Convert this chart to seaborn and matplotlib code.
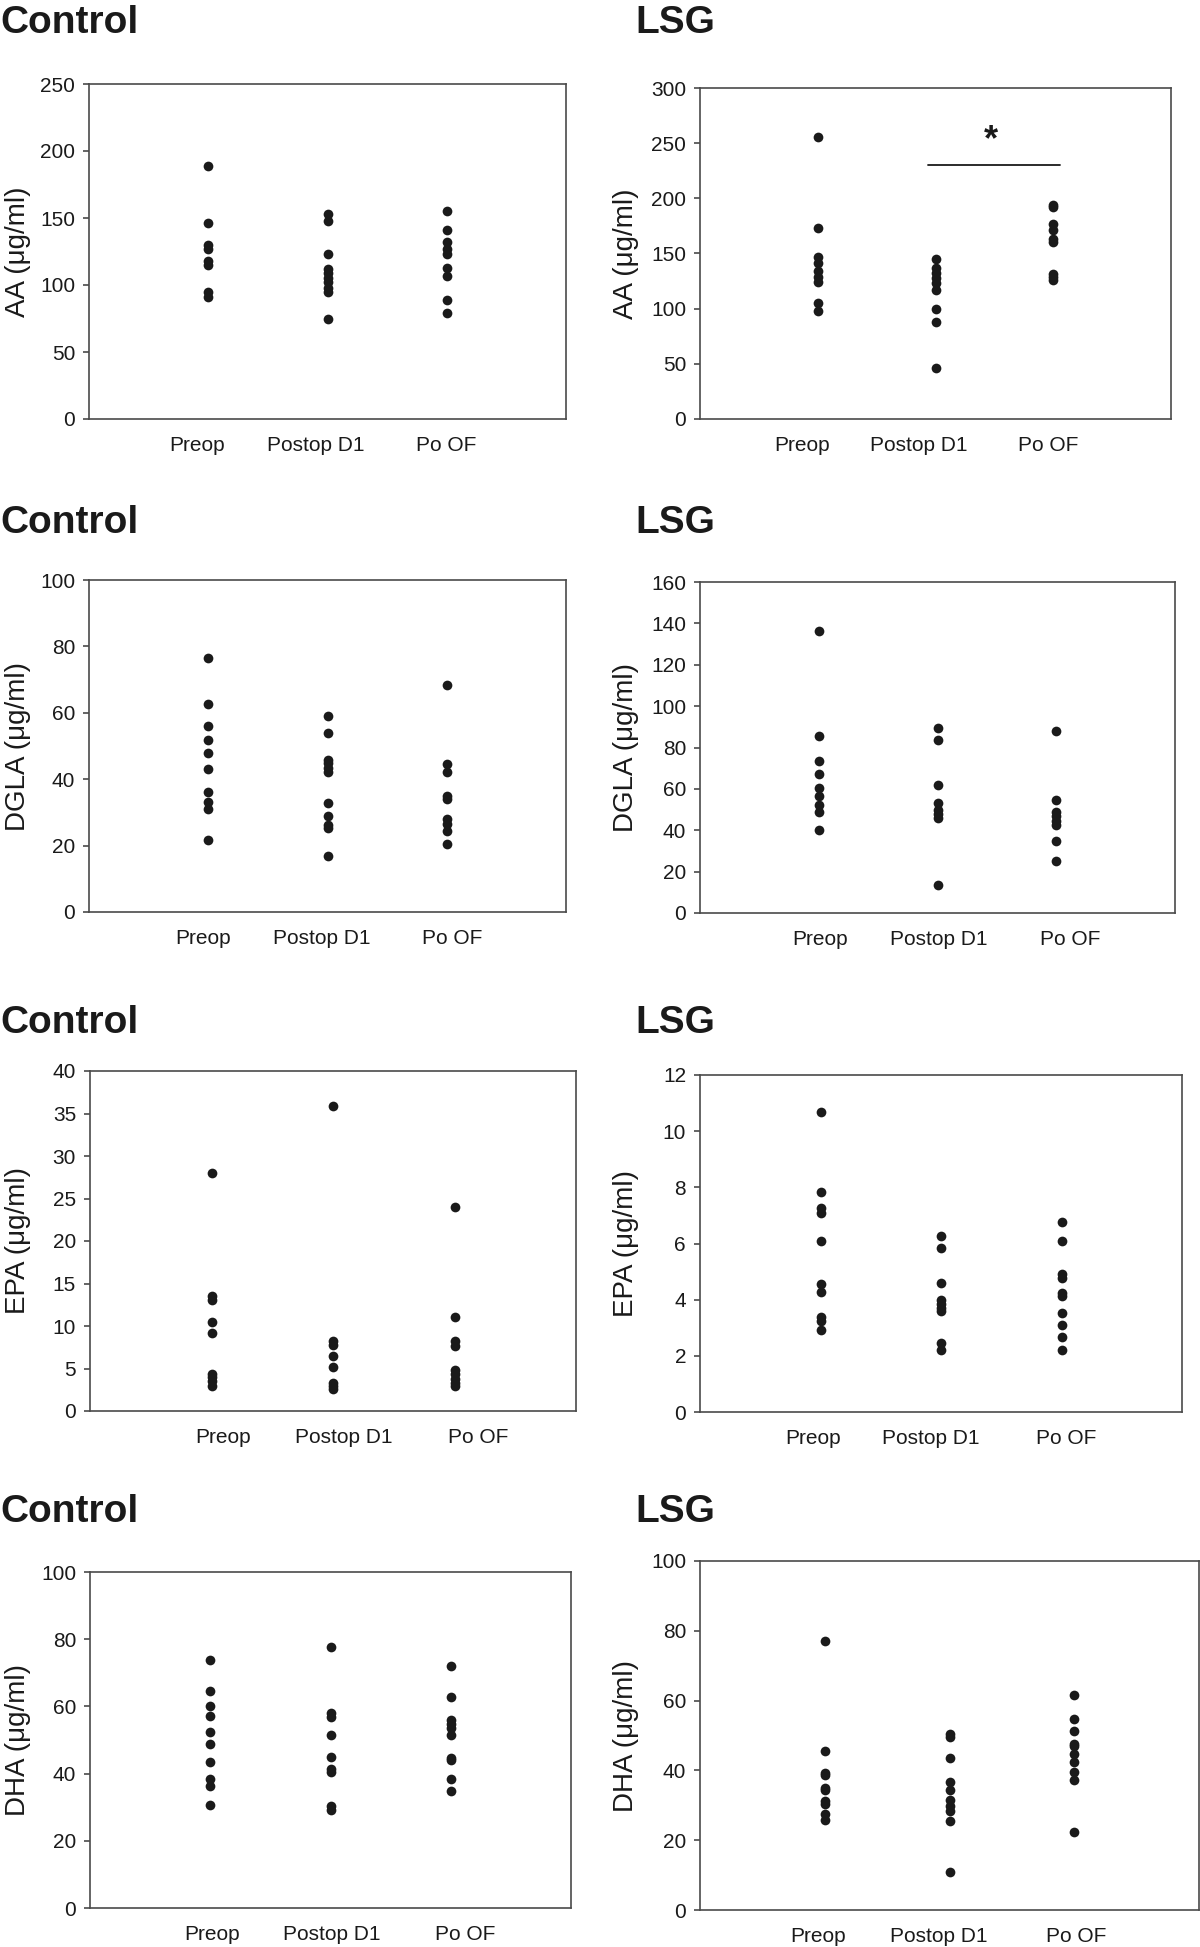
import matplotlib
matplotlib.use("Agg")
import matplotlib.pyplot as plt
import matplotlib.transforms as mtransforms
import seaborn as sns
import pandas as pd

# ---------------- data ----------------
timepoints = ["Preop", "Postop D1", "Po OF"]

ctrl_aa_preop = [189, 146, 130, 127, 118, 115, 95, 91]
ctrl_aa_d1 = [153, 148, 123, 112, 109, 105, 102, 98, 95, 75]
ctrl_aa_of = [155, 141, 132, 127, 123, 113, 107, 89, 79]

lsg_aa_preop = [256, 173, 147, 141, 134, 129, 124, 105, 98]
lsg_aa_d1 = [145, 137, 132, 128, 123, 117, 100, 88, 46]
lsg_aa_of = [194, 192, 177, 171, 163, 160, 131, 129, 126]

ctrl_dgla_preop = [76.4, 62.7, 55.9, 51.9, 47.8, 43.2, 36, 33, 31, 21.8]
ctrl_dgla_d1 = [59.1, 53.9, 45.8, 44.8, 43.3, 42.1, 32.8, 29, 26.1, 25.3, 16.8]
ctrl_dgla_of = [68.4, 44.5, 42.1, 34.8, 34.1, 28.1, 26.6, 24.3, 20.6]

lsg_dgla_preop = [136.5, 85.4, 73.3, 67.2, 60.4, 56.7, 52.4, 48.8, 40.3]
lsg_dgla_d1 = [89.4, 83.5, 62, 53.2, 50, 47.9, 45.9, 13.4]
lsg_dgla_of = [88.1, 54.5, 48.8, 46.7, 44.6, 42.4, 35, 25]

ctrl_epa_preop = [28, 13.5, 13.1, 10.5, 9.2, 4.4, 4.0, 3.5, 3.0]
ctrl_epa_d1 = [35.9, 8.2, 7.8, 6.5, 5.2, 3.3, 3.0, 2.6]
ctrl_epa_of = [24, 11.1, 8.2, 7.7, 4.8, 4.3, 3.8, 3.3, 3.0]

lsg_epa_preop = [10.69, 7.84, 7.25, 7.1, 6.09, 4.57, 4.28, 3.39, 3.23, 2.91]
lsg_epa_d1 = [6.28, 5.85, 4.59, 4.0, 3.86, 3.72, 3.59, 2.47, 2.2]
lsg_epa_of = [6.77, 6.09, 4.93, 4.78, 4.25, 4.13, 3.54, 3.09, 2.67, 2.2]

ctrl_dha_preop = [73.8, 64.6, 60, 57, 52.3, 48.7, 43.4, 38.3, 36.4, 30.7]
ctrl_dha_d1 = [77.8, 58.1, 56.9, 51.6, 44.8, 41.4, 40.4, 30.5, 29.1]
ctrl_dha_of = [72, 62.9, 56, 54.8, 53.5, 51.4, 44.6, 43.9, 38.3, 34.9]

lsg_dha_preop = [77.2, 45.7, 39.2, 38.7, 35.1, 34.4, 31.3, 30.4, 27.4, 25.8]
lsg_dha_d1 = [50.4, 49.5, 43.6, 36.8, 34.4, 31.5, 29.9, 28.5, 25.5, 10.8]
lsg_dha_of = [61.7, 54.6, 51.3, 47.5, 47.1, 44.6, 42.3, 39.6, 37.2, 22.4]

y_labels = ["AA (μg/ml)", "DGLA (μg/ml)", "EPA (μg/ml)", "DHA (μg/ml)"]
y_max = [(250, 300), (100, 160), (40, 12), (100, 100)]
y_step = [(50, 50), (20, 20), (5, 2), (20, 20)]
group_titles = ["Control", "LSG"]

panels = [
    [(ctrl_aa_preop, ctrl_aa_d1, ctrl_aa_of), (lsg_aa_preop, lsg_aa_d1, lsg_aa_of)],
    [(ctrl_dgla_preop, ctrl_dgla_d1, ctrl_dgla_of), (lsg_dgla_preop, lsg_dgla_d1, lsg_dgla_of)],
    [(ctrl_epa_preop, ctrl_epa_d1, ctrl_epa_of), (lsg_epa_preop, lsg_epa_d1, lsg_epa_of)],
    [(ctrl_dha_preop, ctrl_dha_d1, ctrl_dha_of), (lsg_dha_preop, lsg_dha_d1, lsg_dha_of)],
]

# ---------------- layout (pixels, top-origin) ----------------
W, H = 1200, 1947
boxes = [
    [(89, 566, 84, 419), (700, 1171, 88, 419)],
    [(89, 566, 580, 912), (700, 1175, 582, 913)],
    [(90, 576, 1071, 1411), (700, 1182, 1075, 1412)],
    [(90, 571, 1572, 1908), (700, 1199, 1561, 1910)],
]
# horizontal shift (pixels) of each category label relative to its dots
label_shift = [
    [(-11, -12, -1), (-16, -17, -5)],
    [(-5, -6, 5), (1, 1, 14)],
    [(12, 11, 24), (-7, -10, 5)],
    [(2, 1, 14), (-7, -11, 2)],
]
title_baselines = [33, 533, 1033, 1522]
title_x = [0, 635]
ylabel_x = [18, 626]

sns.set_theme(style="ticks")
plt.rcParams["font.family"] = ["Liberation Sans", "DejaVu Sans"]

fig = plt.figure(figsize=(W / 100, H / 100), dpi=100)
fig.patch.set_facecolor("white")

spine_col = "#4a4a4a"
dot_col = "#1a1a1a"

for r in range(4):
    for c in range(2):
        l, rr, t, b = boxes[r][c]
        ax = fig.add_axes([l / W, 1 - b / H, (rr - l) / W, (b - t) / H])
        vals = panels[r][c]
        df = pd.DataFrame({
            "time": sum([[tp] * len(v) for tp, v in zip(timepoints, vals)], []),
            "value": sum([list(v) for v in vals], []),
        })
        sns.stripplot(data=df, x="time", y="value", order=timepoints,
                      jitter=False, color=dot_col, size=7, linewidth=0, ax=ax)
        ax.set_xlim(-1, 3)
        ymax = y_max[r][c]
        ax.set_ylim(0, ymax)
        ax.set_yticks(list(range(0, ymax + 1, y_step[r][c])))
        ax.set_xlabel("")
        ax.set_ylabel("")
        for s in ax.spines.values():
            s.set_visible(True)
            s.set_color(spine_col)
            s.set_linewidth(1.2)
        ax.tick_params(axis="y", direction="out", length=4, width=1.2,
                       color=spine_col, labelsize=15, pad=6, labelcolor="#1a1a1a")
        ax.tick_params(axis="x", length=0, labelsize=15, pad=12, labelcolor="#1a1a1a")
        ax.set_facecolor("white")

        for lab, dx in zip(ax.get_xticklabels(), label_shift[r][c]):
            lab.set_transform(lab.get_transform() +
                              mtransforms.ScaledTranslation(dx / 100, 0, fig.dpi_scale_trans))

        # y label
        fig.text(ylabel_x[c] / W, 1 - ((t + b) / 2) / H, y_labels[r],
                 rotation=90, ha="center", va="center", fontsize=20, color="#1a1a1a")
        # group title
        fig.text(title_x[c] / W, 1 - title_baselines[r] / H, group_titles[c],
                 ha="left", va="baseline", fontsize=28, fontweight="bold", color="#1a1a1a")

        if r == 0 and c == 1:
            ax.plot([0.94, 2.06], [230, 230], color="#1a1a1a", lw=1.3)
            ax.text(1.47, 244, "*", ha="center", va="baseline",
                    fontsize=26, fontweight="bold", color="#1a1a1a")

fig.savefig("out.png", dpi=100, facecolor="white")
